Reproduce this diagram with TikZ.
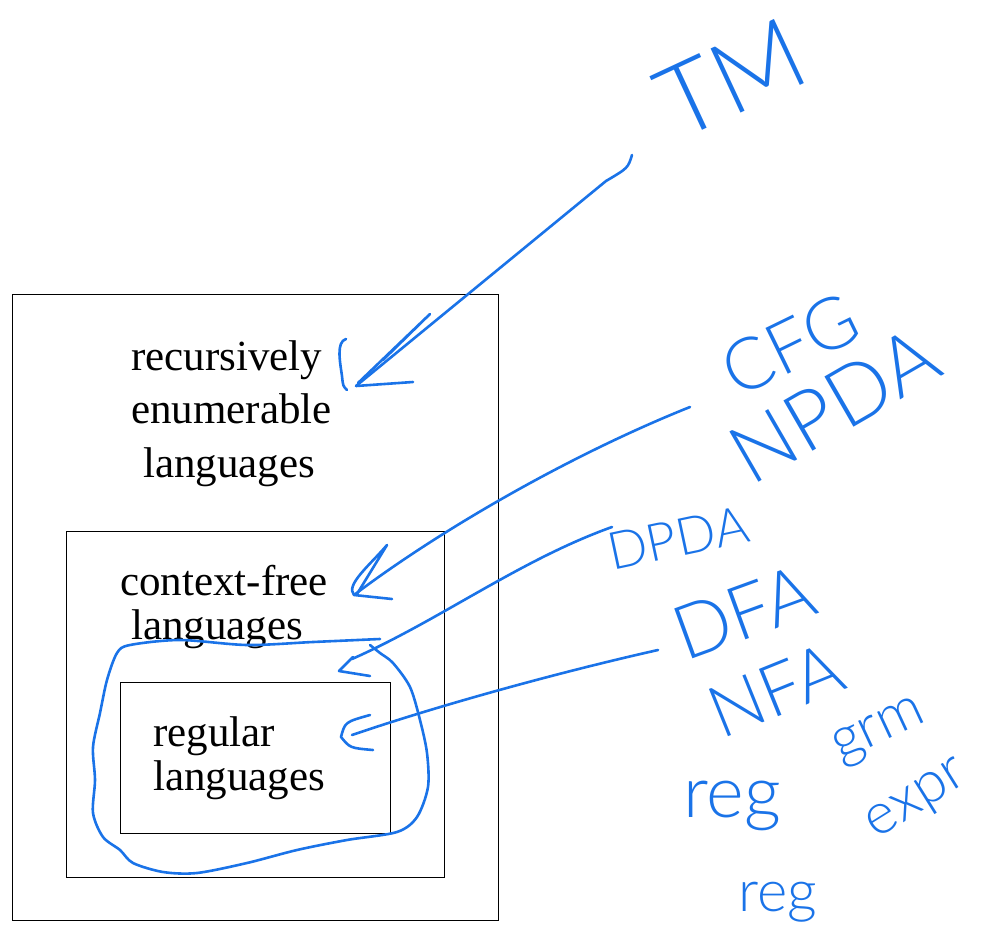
\documentclass[tikz,border=0pt]{standalone}
\usepackage{fontspec}
\setmainfont{Liberation Serif}
\newfontfamily\handfont{Lato Light}
\definecolor{ink}{RGB}{26,115,232}

\begin{document}
\begin{tikzpicture}[x=1pt,y=-1pt]
        \tikzstyle{box}=[draw, line width=0.7pt, anchor=north west, inner sep=0pt]
        \tikzstyle{lang}=[inner sep=0pt, anchor=west, align=left]
        \tikzstyle{pen}=[draw=ink, line width=2.6pt, line cap=round, line join=round]
        \tikzstyle{hand}=[text=ink, inner sep=0pt]
        \useasboundingbox (0,0) rectangle (990,936);
        \node[box, minimum width=486pt, minimum height=626pt] (re) at (12,294) {};
        \node[box, minimum width=378pt, minimum height=346pt] (cf) at (66,531) {};
        \node[box, minimum width=270pt, minimum height=151pt] (reg) at (120,682) {};
        \node[lang, font=\fontsize{43}{53.5}\selectfont] (reText) at (131,413.5) {recursively\\enumerable\\\hspace*{12pt}languages};
        \node[lang, font=\fontsize{43}{44}\selectfont] (cfText) at (120,607) {context-free\\\hspace*{11pt}languages};
        \node[lang, font=\fontsize{43}{44}\selectfont] (regText) at (153,758) {regular\\languages};
        \node[hand, rotate=25, font=\fontsize{100}{100}\handfont] (tm) at (731,78) {TM};
        \node[hand, rotate=26, font=\fontsize{72}{72}\handfont] (cfg) at (790,345) {CFG};
        \node[hand, rotate=30, font=\fontsize{82}{82}\handfont] (npda) at (834,405) {NPDA};
        \node[hand, rotate=12, font=\fontsize{52}{52}\handfont] (dpda) at (678,538) {DPDA};
        \node[hand, rotate=20, font=\fontsize{75}{75}\handfont] (dfa) at (744,612) {DFA};
        \node[hand, rotate=22, font=\fontsize{72}{72}\handfont] (nfa) at (776,690) {NFA};
        \node[hand, font=\fontsize{72}{72}\handfont] (regA) at (732,806) {reg};
        \node[hand, rotate=25, font=\fontsize{58}{58}\handfont] (grm) at (880,733) {grm};
        \node[hand, font=\fontsize{58}{58}\handfont] (regB) at (778,902) {reg};
        \node[hand, rotate=32, font=\fontsize{58}{58}\handfont] (expr) at (918,802) {expr};
        \coordinate (tmTail) at (632,155);
        \coordinate (tmTip) at (356,386);
        \coordinate (cfgTail) at (690,407);
        \coordinate (cfgTip) at (354,595);
        \coordinate (dpdaTail) at (612,527);
        \coordinate (dpdaTip) at (339,671);
        \coordinate (dfaTail) at (658,650);
        \coordinate (dfaTip) at (341,737);
        \draw[pen] (tmTail) .. controls (628,168) .. (606,181) -- (tmTip);
        \draw[pen] (tmTip) -- (413,382);
        \draw[pen] (383,360) -- (430,314) -- (358,383);
        \draw[pen] (346,339) .. controls (336,342) and (340,362) .. (342,376) .. controls (343,386) .. (347,390);
        \draw[pen] (cfgTail) .. controls (570,455) and (440,530) .. (cfgTip);
        \draw[pen] (392,599) -- (cfgTip) .. controls (345,585) and (370,565) .. (387,545) -- (357,594);
        \draw[pen] (dpdaTail) .. controls (520,560) and (440,620) .. (352,659);
        \draw[pen] (353,657) -- (dpdaTip) -- (370,676);
        \draw[pen] (dfaTail) .. controls (560,672) and (440,705) .. (352,735);
        \draw[pen] (370,715) .. controls (345,722) .. (dfaTip) .. controls (350,748) .. (373,750);
        \draw[pen] plot[smooth] coordinates {(380,639) (313,642) (247,645) (180,640) (130,645) (117,653) (107,680) (100,713) (93,747) (95,780) (93,813) (103,837) (120,850) (133,863) (163,872) (197,873) (247,863) (297,850) (347,840) (397,832) (417,817) (428,787) (427,753) (420,720) (410,687) (393,663) (380,653) (370,645)};
\end{tikzpicture}
\end{document}
